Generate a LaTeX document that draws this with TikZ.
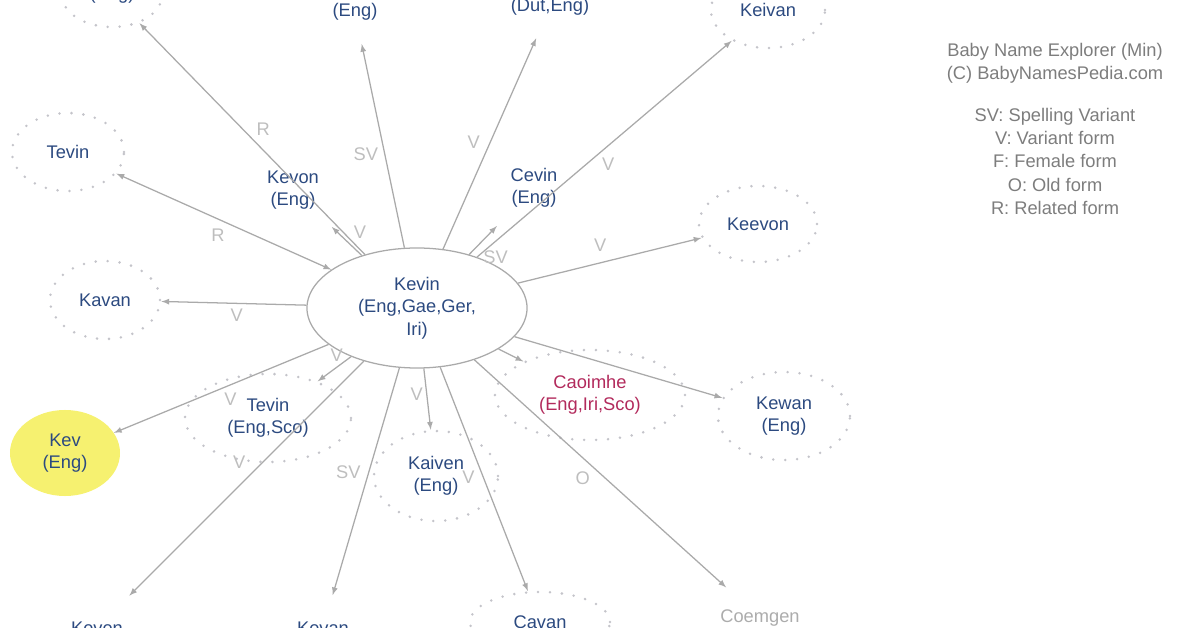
\documentclass[tikz,border=0pt]{standalone}
\usepackage{fontspec}
\setmainfont{Liberation Sans}
\usetikzlibrary{shapes}
\definecolor{namecol}{RGB}{44,74,128}
\definecolor{caocol}{RGB}{178,42,92}
\definecolor{oldcol}{RGB}{172,172,172}
\definecolor{edgecol}{RGB}{170,170,170}
\definecolor{lblcol}{RGB}{190,190,190}
\definecolor{legcol}{RGB}{125,125,125}
\definecolor{dotcol}{RGB}{196,196,202}
\definecolor{kevcol}{RGB}{246,241,112}
\tikzset{every node/.style={font=\fontsize{13}{16}\selectfont}}
\tikzset{nm/.style={ellipse,align=center,text=namecol,inner sep=0pt,minimum width=2.75cm,minimum height=1.9cm}}
\tikzset{dots/.style={draw=dotcol,line width=2pt,line cap=round,dash pattern=on 0pt off 8.5pt}}
\tikzset{rel/.style={->,>=latex,draw=edgecol,line width=0.9pt}}
\tikzset{lbl/.style={text=lblcol,inner sep=0pt}}

\begin{document}
\begin{tikzpicture}[x=0.025cm,y=-0.025cm]
\useasboundingbox (0,0) rectangle (1196,628);
\clip (0,0) rectangle (1196,628);

\node[nm,draw=edgecol,line width=0.9pt,minimum width=5.5cm,minimum height=3cm](kevin) at (417,308) {Kevin\\(Eng,Gae,Ger,\\Iri)};

\node[nm,dots,minimum width=2.5cm,minimum height=1.6cm](topl) at (112,-5) {(Eng)};
\node[nm,minimum width=2.5cm,minimum height=1.6cm](tope) at (355,12) {(Eng)};
\node[nm,minimum width=2.5cm,minimum height=1.6cm](duteng) at (550,7) {(Dut,Eng)};
\node[nm,dots,minimum width=2.85cm](keivan) at (768,10) {Keivan};
\node[nm,dots,minimum width=2.8cm,minimum height=1.95cm](tevina) at (68,152) {Tevin};
\node[nm,dots,minimum height=1.95cm](kavan) at (105,300) {Kavan};
\node[nm,minimum width=3cm,minimum height=2.4cm](kevon) at (293,190) {Kevon\\(Eng)};
\node[nm,minimum width=3cm,minimum height=2.4cm](cevin) at (534,188) {Cevin\\(Eng)};
\node[nm,dots,minimum width=2.95cm](keevon) at (758,224) {Keevon};
\node[nm,dots,minimum width=3.3cm,minimum height=2.2cm](kewan) at (784,416) {Kewan\\(Eng)};
\node[nm,dots,text=caocol,minimum width=4.75cm,minimum height=2.25cm](caoimhe) at (590,395) {Caoimhe\\(Eng,Iri,Sco)};
\node[nm,text=oldcol](coemgen) at (760,618) {Coemgen};
\node[nm,dots,minimum width=3.5cm,minimum height=1.5cm](cavan) at (540,622) {Cavan};
\node[nm,dots,minimum width=3.1cm,minimum height=2.25cm](kaiven) at (436,476) {Kaiven\\(Eng)};
\node[nm,minimum width=3cm,minimum height=1.65cm](kevan) at (323,628) {Kevan};
\node[nm,minimum width=3cm](keven) at (97,628) {Keven};
\node[nm,dots,minimum width=4.15cm,minimum height=2.2cm](tevinb) at (268,418) {Tevin\\(Eng,Sco)};
\node[nm,fill=kevcol,minimum height=2.15cm](kev) at (65,453) {Kev\\(Eng)};

\foreach \t/\l/\p/\dx/\dy in {topl/R/.5/11/-10,kevon/V/.43/11/-11,tope/SV/.48/-18/4,
  duteng/V/.48/-14/-6,cevin/SV/.45/14/16,keivan/V/.48/9/11,keevon/V/.47/-4/-17,
  kewan//.5/0/0,caoimhe//.5/0/0,coemgen/O/.47/-10/11,cavan/V/.47/-13/5,
  kaiven/V/.42/-10/0,kevan/SV/.48/-19/-5,keven/V/.48/-12/-12,tevinb/V/.19/-8/-6,
  kev/V/.48/5/12,kavan/V/.48/0/12}
  \draw[rel] (kevin) -- node[lbl,pos=\p,shift={(\dx,\dy)}]{\l} (\t);
\draw[rel,<->] (kevin) -- node[lbl,pos=.5,shift={(-6,14)}]{R} (tevina);

\node[text=legcol,align=center,font=\fontsize{13}{16.5}\selectfont](legend) at (1055,129) {Baby Name Explorer (Min)\\(C) BabyNamesPedia.com\\[13pt]SV: Spelling Variant\\V: Variant form\\F: Female form\\O: Old form\\R: Related form};
\end{tikzpicture}
\end{document}
